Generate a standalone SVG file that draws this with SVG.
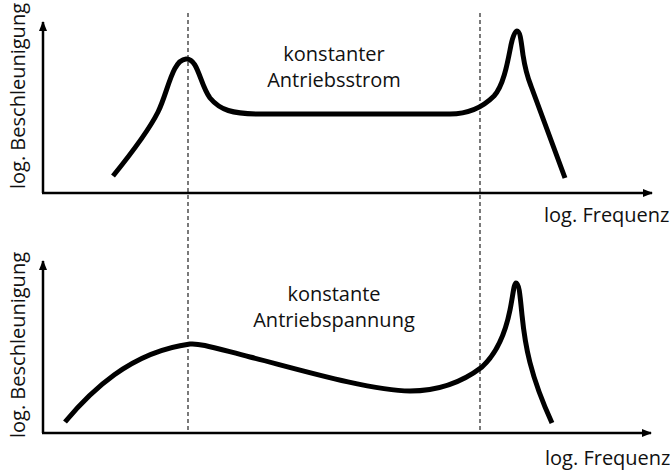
<svg xmlns="http://www.w3.org/2000/svg" width="670" height="472" viewBox="0 0 670 472">
  <style>
    .axis { stroke: #000; stroke-width: 2.5; fill: none; }
    .guide { stroke: #222; stroke-width: 1.2; stroke-dasharray: 4 3; fill: none; }
    .curve { stroke: #000; stroke-width: 5; fill: none; stroke-linejoin: round; }
    text { font-family: "Open Sans", "Noto Sans", sans-serif; font-size: 20px; fill: #111; }
  </style>
  <defs>
    <marker id="arrow" markerUnits="userSpaceOnUse" markerWidth="10" markerHeight="8" refX="9" refY="4" orient="auto">
      <path d="M0,0 L10,4 L0,8 Z" fill="#000"/>
    </marker>
  </defs>

  <rect width="670" height="472" fill="#fff"/>

  <!-- vertical reference lines through both plots -->
  <g id="guides">
    <line class="guide" x1="188" y1="13" x2="188" y2="433"/>
    <line class="guide" x1="480" y1="13" x2="480" y2="433"/>
  </g>

  <!-- upper plot: constant drive current -->
  <g id="plot-current">
    <g id="axes-current">
      <polyline class="axis" points="43,193 43,22" marker-end="url(#arrow)"/>
      <polyline class="axis" points="42,193 652,193" marker-end="url(#arrow)"/>
    </g>
    <path class="curve" d="M113,176 C130,155 148,132 158,112 C168,92 172,60 186,59 C198,58 200,85 210,98 C220,110 232,114 260,114 L450,114 C468,114 482,108 494,96 C504,85 508,60 511,45 C513,36 515,31 517,31 C520,31 521,40 523,55 C525,68 527,76 531,86 L565,178"/>
    <text transform="translate(25,96) rotate(-90)" text-anchor="middle">log. Beschleunigung</text>
    <text x="544" y="222">log. Frequenz</text>
    <text x="334" y="61" text-anchor="middle">konstanter</text>
    <text x="334" y="87" text-anchor="middle">Antriebsstrom</text>
  </g>

  <!-- lower plot: constant drive voltage -->
  <g id="plot-voltage">
    <g id="axes-voltage">
      <polyline class="axis" points="43,433 43,261" marker-end="url(#arrow)"/>
      <polyline class="axis" points="42,433 651,433" marker-end="url(#arrow)"/>
    </g>
    <path class="curve" d="M65,422 C90,392 130,352 190,344 C200,343 215,348 250,357 C290,367 370,391 410,391 C440,391 465,380 482,367 C495,355 505,335 510,310 C513,295 514,283 516,283 C519,283 520,295 522,315 C525,345 530,375 552,423"/>
    <text transform="translate(25,345) rotate(-90)" text-anchor="middle">log. Beschleunigung</text>
    <text x="545" y="465">log. Frequenz</text>
    <text x="334" y="301" text-anchor="middle">konstante</text>
    <text x="334" y="327" text-anchor="middle">Antriebspannung</text>
  </g>
</svg>
